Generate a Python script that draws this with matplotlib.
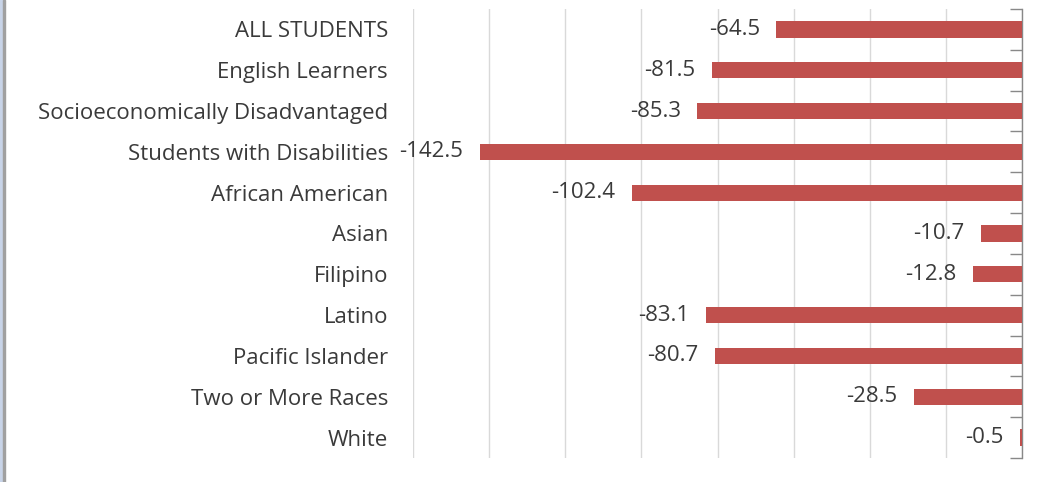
import matplotlib
matplotlib.use("Agg")
import matplotlib.pyplot as plt
from matplotlib.patches import Rectangle

categories = ["ALL STUDENTS", "English Learners", "Socioeconomically Disadvantaged",
              "Students with Disabilities", "African American", "Asian", "Filipino",
              "Latino", "Pacific Islander", "Two or More Races", "White"]
values = [-64.5, -81.5, -85.3, -142.5, -102.4, -10.7, -12.8, -83.1, -80.7, -28.5, -0.5]
value_labels = ["-64.5", "-81.5", "-85.3", "-142.5", "-102.4", "-10.7", "-12.8",
                "-83.1", "-80.7", "-28.5", "-0.5"]
x_ticks = [-160, -140, -120, -100, -80, -60, -40, -20, 0]

plt.rcParams['font.family'] = ['Open Sans', 'DejaVu Sans']
text_color = "#3a3a3a"
bar_color = "#C0504D"

fig = plt.figure(figsize=(10.49, 4.82), dpi=100)
ax = fig.add_axes([413/1049, 1 - 458/482, (1022-413)/1049, (458-9)/482])

y = list(range(len(categories)))
ax.barh(y, values, height=0.4, color=bar_color, zorder=3)
ax.set_xlim(-160, 0)
ax.set_ylim(len(categories) - 0.5, -0.5)

ax.set_xticks(x_ticks)
ax.xaxis.grid(True, color="#d9d9d9", linewidth=1.0, zorder=0)
ax.tick_params(axis='x', length=0, labelbottom=False)

ax.set_yticks(y)
ax.set_yticklabels(categories, fontsize=16, color=text_color)
ax.tick_params(axis='y', which='major', length=0, pad=18)
ax.set_yticks([i - 0.5 for i in range(len(categories) + 1)], minor=True)
ax.tick_params(axis='y', which='minor', left=False, right=True, direction='in',
               length=9, width=1, color="#888888")

for s in ["left", "top", "bottom"]:
    ax.spines[s].set_visible(False)
ax.spines["right"].set_color("#888888")
ax.spines["right"].set_linewidth(1)

for yi, v, lab in zip(y, values, value_labels):
    ax.annotate(lab, xy=(v, yi), xytext=(-12, 0), textcoords="offset points",
                ha="right", va="center", fontsize=16, color=text_color, zorder=4)

# left window edge
fig.patches.append(Rectangle((0, 0), 3/1049, 1, transform=fig.transFigure,
                             color="#c8d4e8", zorder=0))
fig.patches.append(Rectangle((3/1049, 0), 2/1049, 1, transform=fig.transFigure,
                             color="#a0a0a0", zorder=0))

fig.savefig("out.png", dpi=100)
